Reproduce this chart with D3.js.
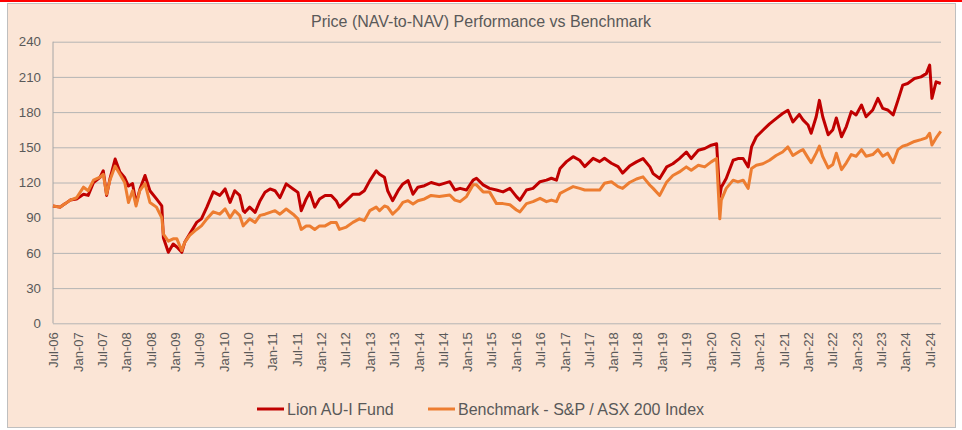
<!DOCTYPE html>
<html>
<head>
<meta charset="utf-8">
<script src="https://cdn.jsdelivr.net/npm/d3@7"></script>
<style>
  body { margin: 0; background: #ffffff; }
  svg { display: block; font-family: "Liberation Sans", Arial, sans-serif; }
</style>
</head>
<body>
<div id="chart"></div>
<script>
// Data (rebased to 100 at Jul-06)
var dates = [
  "2006-07-01","2006-08-22","2006-10-01","2006-11-07","2006-12-25","2007-02-15","2007-03-22","2007-05-01",
  "2007-06-19","2007-07-13","2007-08-07","2007-09-01","2007-10-10","2007-11-15","2007-12-21","2008-01-18",
  "2008-02-18","2008-03-15","2008-04-12","2008-05-21","2008-06-27","2008-08-15","2008-09-24","2008-10-06",
  "2008-11-12","2008-12-18","2009-01-15","2009-02-21","2009-03-15","2009-04-21","2009-06-12","2009-07-18",
  "2009-08-28","2009-10-15","2009-12-03","2010-01-12","2010-02-18","2010-03-25","2010-05-01","2010-05-28",
  "2010-06-09","2010-07-15","2010-08-25","2010-10-01","2010-11-07","2010-12-15","2011-01-21","2011-02-27",
  "2011-04-15","2011-06-06","2011-07-12","2011-08-06","2011-09-12","2011-10-09","2011-11-15","2011-12-21",
  "2012-02-01","2012-03-18","2012-04-24","2012-05-18","2012-07-09","2012-08-27","2012-10-15","2012-11-21",
  "2013-01-01","2013-02-18","2013-03-15","2013-04-21","2013-05-15","2013-06-21","2013-08-01","2013-09-06",
  "2013-10-15","2013-11-21","2013-12-28","2014-02-15","2014-04-06","2014-06-06","2014-08-24","2014-10-01",
  "2014-11-09","2014-12-27","2015-02-15","2015-03-12","2015-05-01","2015-06-18","2015-08-09","2015-09-27",
  "2015-11-18","2016-01-06","2016-02-01","2016-03-21","2016-05-09","2016-07-01","2016-08-18","2016-09-24",
  "2016-11-01","2016-11-28","2017-01-15","2017-03-06","2017-04-24","2017-06-01","2017-08-03","2017-09-21",
  "2017-10-27","2017-12-18","2018-02-06","2018-03-12","2018-05-03","2018-06-24","2018-08-12","2018-10-03",
  "2018-10-27","2018-12-15","2019-02-06","2019-03-24","2019-05-12","2019-07-03","2019-08-09","2019-10-01",
  "2019-11-18","2020-01-06","2020-02-15","2020-03-10","2020-03-21","2020-04-27","2020-06-18","2020-07-24",
  "2020-09-01","2020-10-09","2020-11-03","2020-12-09","2021-01-27","2021-03-18","2021-05-06","2021-06-24",
  "2021-08-03","2021-09-09","2021-10-27","2021-11-24","2022-01-01","2022-01-24","2022-03-03","2022-03-27",
  "2022-04-21","2022-06-01","2022-07-06","2022-08-01","2022-09-09","2022-10-15","2022-11-21","2022-12-27",
  "2023-02-06","2023-03-12","2023-05-01","2023-06-09","2023-07-15","2023-08-21","2023-10-01","2023-11-06",
  "2023-12-12","2024-01-18","2024-03-09","2024-04-27","2024-06-06","2024-07-01","2024-07-18","2024-08-18",
  "2024-09-22"
];

var fundValues = [
  100, 99, 102, 105, 106, 110, 109, 120,
  124.5, 130, 109, 123, 140, 129, 124, 117,
  119, 102, 114, 126, 113, 106, 100, 73,
  60.5, 67.6, 65, 60.5, 69, 76, 86, 89,
  99, 112, 109, 114.5, 103, 113, 109, 96,
  94.6, 99, 94.6, 104.5, 111.6, 114.5, 113, 107,
  118.8, 114.5, 111.6, 96, 106, 111.6, 99, 106,
  109, 109, 104.5, 99, 104.5, 110, 110, 113,
  121.6, 130, 127, 124.4, 113, 104.5, 113, 118.8,
  121.6, 110, 116, 117.3, 120, 118, 120.7, 113.6,
  115, 113.6, 122, 123.6, 118, 115, 113.6, 112,
  115, 108, 105, 113.6, 115, 120.7, 122, 123.6,
  122, 132, 137.8, 142, 139, 133.5, 140.6, 137.8,
  140.6, 136.4, 133.5, 128, 134, 137.6, 140.4, 133.3,
  127.6, 123.4, 133.3, 136, 140.4, 146, 140.4, 147.5,
  149, 151.8, 153, 108, 116, 123.4, 139, 140.4,
  140.4, 133.3, 150.3, 159, 164.5, 170, 174.5, 178.8,
  181.6, 171.6, 178, 173.4, 169, 162, 176, 190,
  176, 160.7, 165, 175, 159, 167.7, 180.4, 177.6,
  186, 176, 181.8, 191.7, 183.2, 181.8, 177.6, 190,
  203, 204.4, 208.6, 210, 212.8, 220, 191.7, 205.8,
  204.4
];

var benchValues = [
  100, 99, 102, 105, 107, 116, 113, 122,
  124.5, 127, 110, 122, 134, 127, 120, 103,
  113, 100, 113, 119, 103, 99, 90, 76,
  70, 72, 72, 62, 69, 75, 80, 83,
  89, 95, 93, 97.5, 90, 96, 92, 83,
  84.7, 89, 86, 92, 93, 94.6, 96, 93,
  97.4, 93, 89, 80, 83, 83, 80, 83,
  83, 86, 86, 80, 82, 86, 89, 87.5,
  96, 99, 96, 100, 99, 93, 97.4, 103,
  104.5, 101.7, 104.5, 106, 109, 108, 109.4, 105,
  103.7, 108, 118, 118, 112, 112, 102, 102,
  101, 96.6, 95, 102, 103.7, 106.5, 103.7, 105,
  103.7, 110.8, 113.6, 116.5, 115, 113.6, 113.6, 113.6,
  119.3, 120.7, 116.5, 115, 120, 123, 124.8, 117.7,
  115, 109, 120.5, 126, 129, 133.3, 130.5, 134.7,
  133.3, 137.6, 140.4, 89, 105, 115, 122, 120.5,
  122, 115, 132, 134.7, 136, 139, 143, 146,
  150.3, 143, 146.5, 148, 141, 136.8, 145, 151,
  142, 132.5, 135.4, 145, 131, 136.8, 143.8, 142.4,
  148, 142.4, 143.8, 148, 142.4, 145, 136.8, 148,
  151, 152.2, 155, 156.5, 158, 162, 152, 158,
  163.5
];

var yTicks = [0, 30, 60, 90, 120, 150, 180, 210, 240];
var seriesNames = ["Lion AU-I Fund", "Benchmark - S&P / ASX 200 Index"];
var seriesColors = ["#C00000", "#ED7D31"];
var chartTitle = "Price (NAV-to-NAV) Performance vs Benchmark";

var width = 962, height = 430;
var margin = { left: 53, right: 21, top: 41.7, bottom: 106.7 };

var parse = d3.timeParse("%Y-%m-%d");
var points = dates.map(function(d, i) {
  return { time: parse(d), fund: fundValues[i], bench: benchValues[i] };
});

var svg = d3.select("#chart").append("svg")
  .attr("width", width)
  .attr("height", height);

// top red rule and chart frame
svg.append("rect").attr("x", 0).attr("y", 0).attr("width", width).attr("height", 2).attr("fill", "#FF0000");
svg.append("rect")
  .attr("x", 7.5).attr("y", 3.5).attr("width", 948).attr("height", 424)
  .attr("fill", "#FBE5D6").attr("stroke", "#BFBFBF");

var x = d3.scaleTime()
  .domain([parse("2006-07-01"), parse("2024-09-24")])
  .range([margin.left, width - margin.right]);

var y = d3.scaleLinear()
  .domain([0, 240])
  .range([height - margin.bottom, margin.top]);

// title
svg.append("text")
  .attr("x", 481).attr("y", 27)
  .attr("text-anchor", "middle")
  .attr("fill", "#595959")
  .style("font-size", "16px")
  .text(chartTitle);

// y axis + gridlines
var yAxis = svg.append("g")
  .attr("transform", "translate(" + margin.left + ",0)")
  .call(d3.axisLeft(y).tickValues(yTicks).tickSize(-(width - margin.left - margin.right)).tickPadding(12));
yAxis.select(".domain").remove();
yAxis.selectAll(".tick line").attr("stroke", "#B4B4B4");
yAxis.selectAll(".tick text").attr("fill", "#595959").style("font-size", "13.3px");

svg.append("line")
  .attr("x1", margin.left).attr("x2", margin.left)
  .attr("y1", y(240)).attr("y2", y(0))
  .attr("stroke", "#A6A6A6");

// x axis labels every six months
var xTicks = d3.timeMonth.range(parse("2006-07-01"), parse("2024-07-02"), 6);
var xAxis = svg.append("g")
  .attr("transform", "translate(0," + y(0) + ")")
  .call(d3.axisBottom(x).tickValues(xTicks).tickFormat(d3.timeFormat("%b-%y")).tickSize(0));
xAxis.select(".domain").remove();
xAxis.selectAll(".tick text")
  .attr("fill", "#595959")
  .style("font-size", "13px")
  .attr("text-anchor", "end")
  .attr("transform", "rotate(-90)")
  .attr("x", -9)
  .attr("y", 0)
  .attr("dy", "0.35em");

// lines
var fundLine = d3.line()
  .x(function(d) { return x(d.time); })
  .y(function(d) { return y(d.fund); });

var benchLine = d3.line()
  .x(function(d) { return x(d.time); })
  .y(function(d) { return y(d.bench); });

svg.append("path")
  .datum(points)
  .attr("fill", "none")
  .attr("stroke", seriesColors[0])
  .attr("stroke-width", 3)
  .attr("stroke-linejoin", "round")
  .attr("d", fundLine);

svg.append("path")
  .datum(points)
  .attr("fill", "none")
  .attr("stroke", seriesColors[1])
  .attr("stroke-width", 3)
  .attr("stroke-linejoin", "round")
  .attr("d", benchLine);

// legend
var legendX = [257, 428];
var legend = svg.append("g").attr("class", "legend");
seriesNames.forEach(function(name, i) {
  var g = legend.append("g").attr("transform", "translate(" + legendX[i] + ",409)");
  g.append("line")
    .attr("x1", 0).attr("x2", 27)
    .attr("stroke", seriesColors[i])
    .attr("stroke-width", 3);
  g.append("text")
    .attr("x", 30).attr("y", 0)
    .attr("dy", "0.35em")
    .attr("fill", "#595959")
    .style("font-size", "16px")
    .text(name);
});
</script>
</body>
</html>
